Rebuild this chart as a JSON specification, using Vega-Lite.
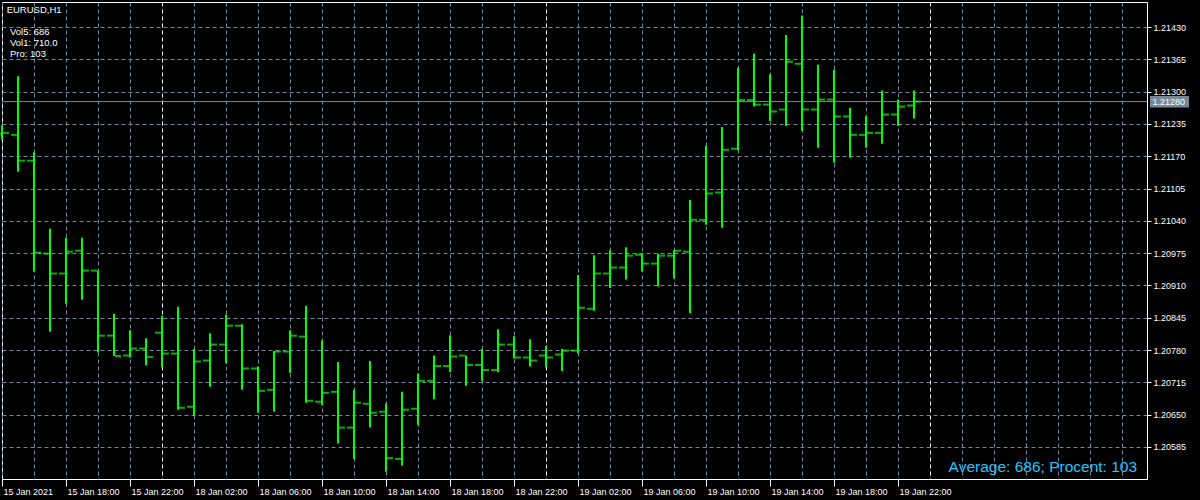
{
  "$schema": "https://vega.github.io/schema/vega-lite/v6.json",
  "autosize": "none",
  "width": 1145,
  "height": 477,
  "padding": {"left": 2, "top": 2, "right": 53, "bottom": 21},
  "background": "black",
  "config": {
    "view": {"stroke": "white", "strokeWidth": 1},
    "axis": {"labelFont": "Liberation Sans", "labelFontSize": 9, "labelColor": "white", "domain": false, "title": null, "labelOverlap": false, "labelFlush": false, "labelBound": false}
  },
  "data": {"values": [
    {"i":0,"o":1.21215,"h":1.21233,"l":1.21203,"c":1.21217},
    {"i":1,"o":1.21213,"h":1.21331,"l":1.21139,"c":1.21161},
    {"i":2,"o":1.21161,"h":1.21178,"l":1.20938,"c":1.20976},
    {"i":3,"o":1.20974,"h":1.21024,"l":1.20817,"c":1.20934},
    {"i":4,"o":1.20934,"h":1.21006,"l":1.20873,"c":1.20978},
    {"i":5,"o":1.20980,"h":1.21006,"l":1.20881,"c":1.20940},
    {"i":6,"o":1.20940,"h":1.20940,"l":1.20775,"c":1.20809},
    {"i":7,"o":1.20809,"h":1.20853,"l":1.20768,"c":1.20768},
    {"i":8,"o":1.20769,"h":1.20820,"l":1.20765,"c":1.20783},
    {"i":9,"o":1.20783,"h":1.20804,"l":1.20749,"c":1.20766},
    {"i":10,"o":1.20815,"h":1.20849,"l":1.20745,"c":1.20773},
    {"i":11,"o":1.20773,"h":1.20867,"l":1.20660,"c":1.20664},
    {"i":12,"o":1.20666,"h":1.20782,"l":1.20648,"c":1.20757},
    {"i":13,"o":1.20759,"h":1.20814,"l":1.20706,"c":1.20791},
    {"i":14,"o":1.20791,"h":1.20851,"l":1.20753,"c":1.20829},
    {"i":15,"o":1.20829,"h":1.20832,"l":1.20700,"c":1.20743},
    {"i":16,"o":1.20743,"h":1.20747,"l":1.20654,"c":1.20698},
    {"i":17,"o":1.20700,"h":1.20778,"l":1.20656,"c":1.20777},
    {"i":18,"o":1.20777,"h":1.20820,"l":1.20734,"c":1.20809},
    {"i":19,"o":1.20807,"h":1.20869,"l":1.20674,"c":1.20678},
    {"i":20,"o":1.20676,"h":1.20800,"l":1.20669,"c":1.20694},
    {"i":21,"o":1.20696,"h":1.20756,"l":1.20592,"c":1.20624},
    {"i":22,"o":1.20624,"h":1.20700,"l":1.20561,"c":1.20674},
    {"i":23,"o":1.20672,"h":1.20758,"l":1.20624,"c":1.20654},
    {"i":24,"o":1.20656,"h":1.20673,"l":1.20535,"c":1.20563},
    {"i":25,"o":1.20561,"h":1.20696,"l":1.20548,"c":1.20660},
    {"i":26,"o":1.20662,"h":1.20733,"l":1.20629,"c":1.20718},
    {"i":27,"o":1.20718,"h":1.20769,"l":1.20681,"c":1.20748},
    {"i":28,"o":1.20748,"h":1.20810,"l":1.20736,"c":1.20767},
    {"i":29,"o":1.20769,"h":1.20769,"l":1.20708,"c":1.20750},
    {"i":30,"o":1.20750,"h":1.20782,"l":1.20718,"c":1.20740},
    {"i":31,"o":1.20740,"h":1.20822,"l":1.20736,"c":1.20791},
    {"i":32,"o":1.20791,"h":1.20808,"l":1.20763,"c":1.20765},
    {"i":33,"o":1.20765,"h":1.20802,"l":1.20747,"c":1.20759},
    {"i":34,"o":1.20769,"h":1.20788,"l":1.20745,"c":1.20765},
    {"i":35,"o":1.20771,"h":1.20782,"l":1.20738,"c":1.20779},
    {"i":36,"o":1.20779,"h":1.20931,"l":1.20773,"c":1.20865},
    {"i":37,"o":1.20863,"h":1.20971,"l":1.20859,"c":1.20934},
    {"i":38,"o":1.20934,"h":1.20981,"l":1.20905,"c":1.20946},
    {"i":39,"o":1.20946,"h":1.20987,"l":1.20922,"c":1.20970},
    {"i":40,"o":1.20972,"h":1.20974,"l":1.20938,"c":1.20954},
    {"i":41,"o":1.20954,"h":1.20974,"l":1.20908,"c":1.20970},
    {"i":42,"o":1.20970,"h":1.20981,"l":1.20924,"c":1.20980},
    {"i":43,"o":1.20978,"h":1.21082,"l":1.20854,"c":1.21042},
    {"i":44,"o":1.21042,"h":1.21191,"l":1.21032,"c":1.21095},
    {"i":45,"o":1.21097,"h":1.21229,"l":1.21026,"c":1.21183},
    {"i":46,"o":1.21185,"h":1.21348,"l":1.21182,"c":1.21283},
    {"i":47,"o":1.21283,"h":1.21376,"l":1.21270,"c":1.21274},
    {"i":48,"o":1.21274,"h":1.21335,"l":1.21241,"c":1.21260},
    {"i":49,"o":1.21264,"h":1.21414,"l":1.21231,"c":1.21360},
    {"i":50,"o":1.21356,"h":1.21453,"l":1.21221,"c":1.21264},
    {"i":51,"o":1.21264,"h":1.21354,"l":1.21187,"c":1.21284},
    {"i":52,"o":1.21284,"h":1.21344,"l":1.21157,"c":1.21250},
    {"i":53,"o":1.21250,"h":1.21267,"l":1.21167,"c":1.21213},
    {"i":54,"o":1.21213,"h":1.21251,"l":1.21187,"c":1.21217},
    {"i":55,"o":1.21217,"h":1.21302,"l":1.21195,"c":1.21254},
    {"i":56,"o":1.21254,"h":1.21284,"l":1.21231,"c":1.21270},
    {"i":57,"o":1.21272,"h":1.21302,"l":1.21246,"c":1.21280}
  ]},
  "layer": [
    {
      "data": {"values": [{}]},
      "mark": {"type": "rule", "color": "#778899", "strokeWidth": 1},
      "encoding": {
        "y": {"datum": 1.2128, "type": "quantitative",
          "scale": {"domain": [1.205206, 1.214803], "nice": false, "zero": false},
          "axis": {
            "orient": "right",
            "values": [1.20585,1.2065,1.20715,1.2078,1.20845,1.2091,1.20975,1.2104,1.21105,1.2117,1.21235,1.213,1.21365,1.2143],
            "tickCount": 200,
            "format": ".5f",
            "grid": true,
            "gridColor": "#778899",
            "gridDash": [4, 3],
            "tickSize": 4,
            "tickColor": "#ffffff",
            "labelPadding": 2
          }
        }
      }
    },
    {
      "mark": {"type": "rule", "color": "#00ff00", "strokeWidth": 2},
      "encoding": {
        "x": {"field": "i", "type": "quantitative",
          "scale": {"domain": [0, 71.5625], "nice": false, "zero": false},
          "axis": {
            "orient": "bottom",
            "values": [0,2,4,6,8,10,12,14,16,18,20,22,24,26,28,30,32,34,36,38,40,42,44,46,48,50,52,54,56,58,60,62,64,66,68,70],
            "tickCount": 200,
            "grid": true,
            "gridColor": {"condition": {"test": "datum.value == 10 || datum.value == 34 || datum.value == 58", "value": "#ffffff"}, "value": "#778899"},
            "gridDash": [4, 3],
            "gridWidth": 1,
            "ticks": true,
            "tickSize": 7,
            "tickColor": {"condition": {"test": "datum.value % 4 == 0 && datum.value <= 56", "value": "#ffffff"}, "value": "transparent"},
            "labelAlign": "left",
            "labelBaseline": "alphabetic",
            "labelPadding": 8,
            "labelOffset": 1,
            "labelExpr": "datum.value % 4 == 0 && datum.value <= 56 ? ['15 Jan 2021','15 Jan 18:00','15 Jan 22:00','18 Jan 02:00','18 Jan 06:00','18 Jan 10:00','18 Jan 14:00','18 Jan 18:00','18 Jan 22:00','19 Jan 02:00','19 Jan 06:00','19 Jan 10:00','19 Jan 14:00','19 Jan 18:00','19 Jan 22:00'][datum.value / 4] : ''"
          }
        },
        "y": {"field": "l", "type": "quantitative"},
        "y2": {"field": "h"}
      }
    },
    {
      "mark": {"type": "tick", "orient": "horizontal", "color": "#00ff00", "size": 6, "thickness": 2, "xOffset": -4},
      "encoding": {
        "x": {"field": "i", "type": "quantitative"},
        "y": {"field": "o", "type": "quantitative"}
      }
    },
    {
      "mark": {"type": "tick", "orient": "horizontal", "color": "#00ff00", "size": 6, "thickness": 2, "xOffset": 4},
      "encoding": {
        "x": {"field": "i", "type": "quantitative"},
        "y": {"field": "c", "type": "quantitative"}
      }
    },
    {
      "data": {"values": [{}]},
      "mark": {"type": "rect", "color": "#778899"},
      "encoding": {
        "x": {"datum": 71.75, "type": "quantitative", "title": null},
        "x2": {"datum": 74.19},
        "y": {"datum": 1.21291, "type": "quantitative", "title": null},
        "y2": {"datum": 1.21268}
      }
    },
    {
      "data": {"values": [{"label": "1.21280"}]},
      "mark": {"type": "text", "color": "#ffffff", "font": "Liberation Sans", "fontSize": 9, "align": "left", "baseline": "middle"},
      "encoding": {
        "x": {"datum": 71.9, "type": "quantitative", "title": null},
        "y": {"datum": 1.2128, "type": "quantitative", "title": null},
        "text": {"field": "label"}
      }
    },
    {
      "data": {"values": [{"label": "EURUSD,H1"}]},
      "mark": {"type": "text", "color": "#ffffff", "font": "Liberation Sans", "fontSize": 9.5, "align": "left", "baseline": "alphabetic"},
      "encoding": {
        "x": {"datum": 0.29, "type": "quantitative", "title": null},
        "y": {"datum": 1.214576, "type": "quantitative", "title": null},
        "text": {"field": "label"}
      }
    },
    {
      "data": {"values": [{}]},
      "mark": {"type": "text", "color": "#ffffff", "font": "Liberation Sans", "fontSize": 9.5, "align": "left", "baseline": "alphabetic", "lineHeight": 11},
      "encoding": {
        "x": {"datum": 0.5, "type": "quantitative", "title": null},
        "y": {"datum": 1.21414, "type": "quantitative", "title": null},
        "text": {"value": ["Vol5: 686", "Vol1: 710.0", "Pro: 103"]}
      }
    },
    {
      "data": {"values": [{"label": "Average: 686; Procent: 103"}]},
      "mark": {"type": "text", "color": "#1ec8ff", "font": "Liberation Sans", "fontSize": 15.5, "align": "right", "baseline": "alphabetic"},
      "encoding": {
        "x": {"datum": 70.94, "type": "quantitative", "title": null},
        "y": {"datum": 1.205353, "type": "quantitative", "title": null},
        "text": {"field": "label"}
      }
    }
  ]
}
